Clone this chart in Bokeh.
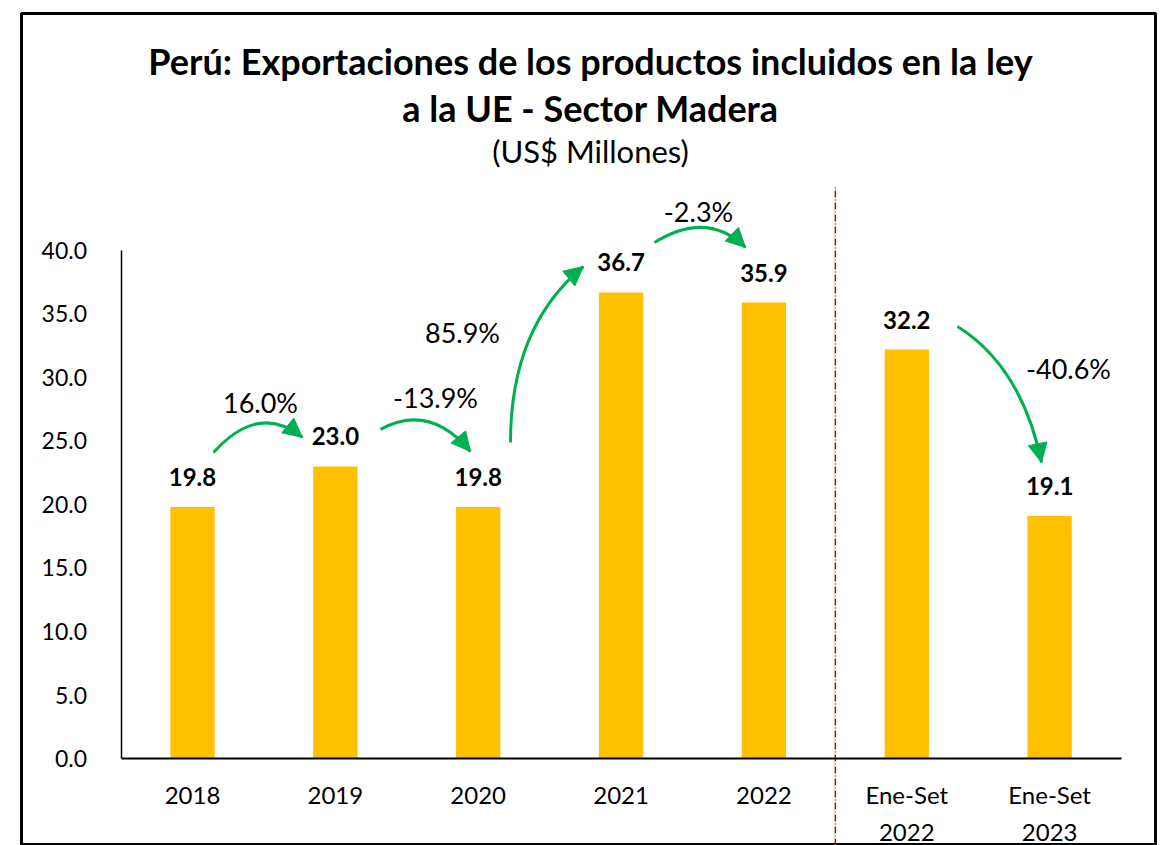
from bokeh.plotting import figure
from bokeh.models import FixedTicker, Range1d, Arrow, NormalHead, ColumnDataSource, CustomJSTickFormatter
from bokeh.core.properties import value
from bokeh.embed import file_html
from bokeh.resources import INLINE

# ---------------- data ----------------
categories = ["2018", "2019", "2020", "2021", "2022", "Ene-Set\n2022", "Ene-Set\n2023"]
exports = [19.8, 23.0, 19.8, 36.7, 35.9, 32.2, 19.1]
growth_labels = ["16.0%", "-13.9%", "85.9%", "-2.3%", "-40.6%"]
growth_from = [0, 1, 2, 3, 5]
growth_to = [1, 2, 3, 4, 6]
y_ticks = [0, 5, 10, 15, 20, 25, 30, 35, 40]
title_lines = ["Perú: Exportaciones de los productos incluidos en la ley",
               "a la UE - Sector Madera"]
subtitle = "(US$ Millones)"

# ---------------- styling / layout ----------------
FONT = "Lato"
BAR_COLOR = "#FFC000"
GREEN = "#00B050"
RED = "#C00000"

idx = list(range(len(categories)))

p = figure(width=1158, height=845, output_backend="svg", toolbar_location=None,
           x_range=Range1d(-1.197, 6.741), y_range=Range1d(-6.85, 58.66),
           min_border_left=21, min_border_right=3, min_border_top=13, min_border_bottom=0)
p.outline_line_color = "black"
p.outline_line_width = 3
p.background_fill_color = "white"
p.border_fill_color = "white"
p.xgrid.visible = False
p.ygrid.visible = False

# axes inside the frame
p.yaxis.fixed_location = -0.5
p.yaxis.bounds = (0, 40)
p.yaxis.ticker = FixedTicker(ticks=y_ticks)
p.yaxis.formatter = CustomJSTickFormatter(code="return tick.toFixed(1);")
p.yaxis.major_tick_line_color = None
p.yaxis.minor_tick_line_color = None
p.yaxis.axis_line_color = "black"
p.yaxis.axis_line_width = 1.5
p.yaxis.major_label_standoff = 28
p.yaxis.major_label_text_font = FONT
p.yaxis.major_label_text_font_size = "23px"
p.yaxis.major_label_text_color = "black"

p.xaxis.fixed_location = 0
p.xaxis.bounds = (-0.5, 6.5)
p.xaxis.ticker = FixedTicker(ticks=idx)
p.xaxis.major_label_overrides = {i: c for i, c in zip(idx, categories)}
p.xaxis.major_tick_line_color = None
p.xaxis.minor_tick_line_color = None
p.xaxis.axis_line_color = "black"
p.xaxis.axis_line_width = 2
p.xaxis.major_label_standoff = 15
p.xaxis.major_label_text_font = FONT
p.xaxis.major_label_text_font_size = "24px"
p.xaxis.major_label_text_color = "black"
p.xaxis.major_label_text_line_height = 1.3

# bars
src = ColumnDataSource(dict(x=idx, top=exports, lab=[f"{v:.1f}" for v in exports]))
p.vbar(x="x", top="top", bottom=0, width=0.31, source=src, fill_color=BAR_COLOR, line_color=None)
p.text(x="x", y="top", text="lab", source=src, text_font=value(FONT), text_font_style="bold",
       text_font_size="24px", text_align="center", text_baseline="middle", y_offset=-30,
       text_color="black")

# separator line between annual and Ene-Set data
p.segment(x0=[4.5], y0=[-6.85], x1=[4.5], y1=[45.1], line_color=RED, line_width=1.5,
          line_dash="7 2 1 2")

# growth arrows (offsets relative to the connected bars)
arrow_geom = [
    ((0.147, 4.29), (0.466, 8.27), (-0.230, 2.28)),
    ((0.316, 2.91), (0.659, 5.03), (-0.054, 4.37)),
    ((0.226, 5.08), (0.226, 14.22), (-0.263, 2.04)),
    ((0.234, 3.93), (0.601, 6.49), (-0.129, 4.34)),
    ((0.355, 1.82), (0.803, -1.33), (-0.057, 4.21)),
]
label_off = [(0.476, 8.23), (0.701, 5.43), (-0.11, 13.74), (0.542, 6.37), (1.132, -1.49)]

x0s, y0s, cxs, cys, x1s, y1s, lx, ly = [], [], [], [], [], [], [], []
for (a, b), (s, c, e), lo in zip(zip(growth_from, growth_to), arrow_geom, label_off):
    sx, sy = a + s[0], exports[a] + s[1]
    cx, cy = a + c[0], exports[a] + c[1]
    ex, ey = b + e[0], exports[b] + e[1]
    x0s.append(sx); y0s.append(sy); cxs.append(cx); cys.append(cy); x1s.append(ex); y1s.append(ey)
    lx.append(a + lo[0]); ly.append(exports[a] + lo[1])
    k = 0.12
    p.add_layout(Arrow(x_start=ex - k * (ex - cx), y_start=ey - k * (ey - cy), x_end=ex, y_end=ey,
                       line_alpha=0,
                       end=NormalHead(size=19, fill_color=GREEN, line_color=GREEN, line_width=1)))

p.quadratic(x0=x0s, y0=y0s, x1=x1s, y1=y1s, cx=cxs, cy=cys, line_color=GREEN, line_width=3)
p.text(x=lx, y=ly, text=growth_labels, text_font=value(FONT), text_font_size="27px",
       text_align="center", text_baseline="middle", text_color="black")

# titles
p.text(x=[2.786, 2.786], y=[54.9, 51.2], text=title_lines, text_font=value(FONT),
       text_font_style="bold", text_font_size="36px", text_align="center",
       text_baseline="middle", text_color="black")
p.text(x=[2.786], y=[47.8], text=[subtitle], text_font=value(FONT), text_font_size="31px",
       text_align="center", text_baseline="middle", text_color="black")

open("out.html", "w").write(file_html(p, INLINE))
